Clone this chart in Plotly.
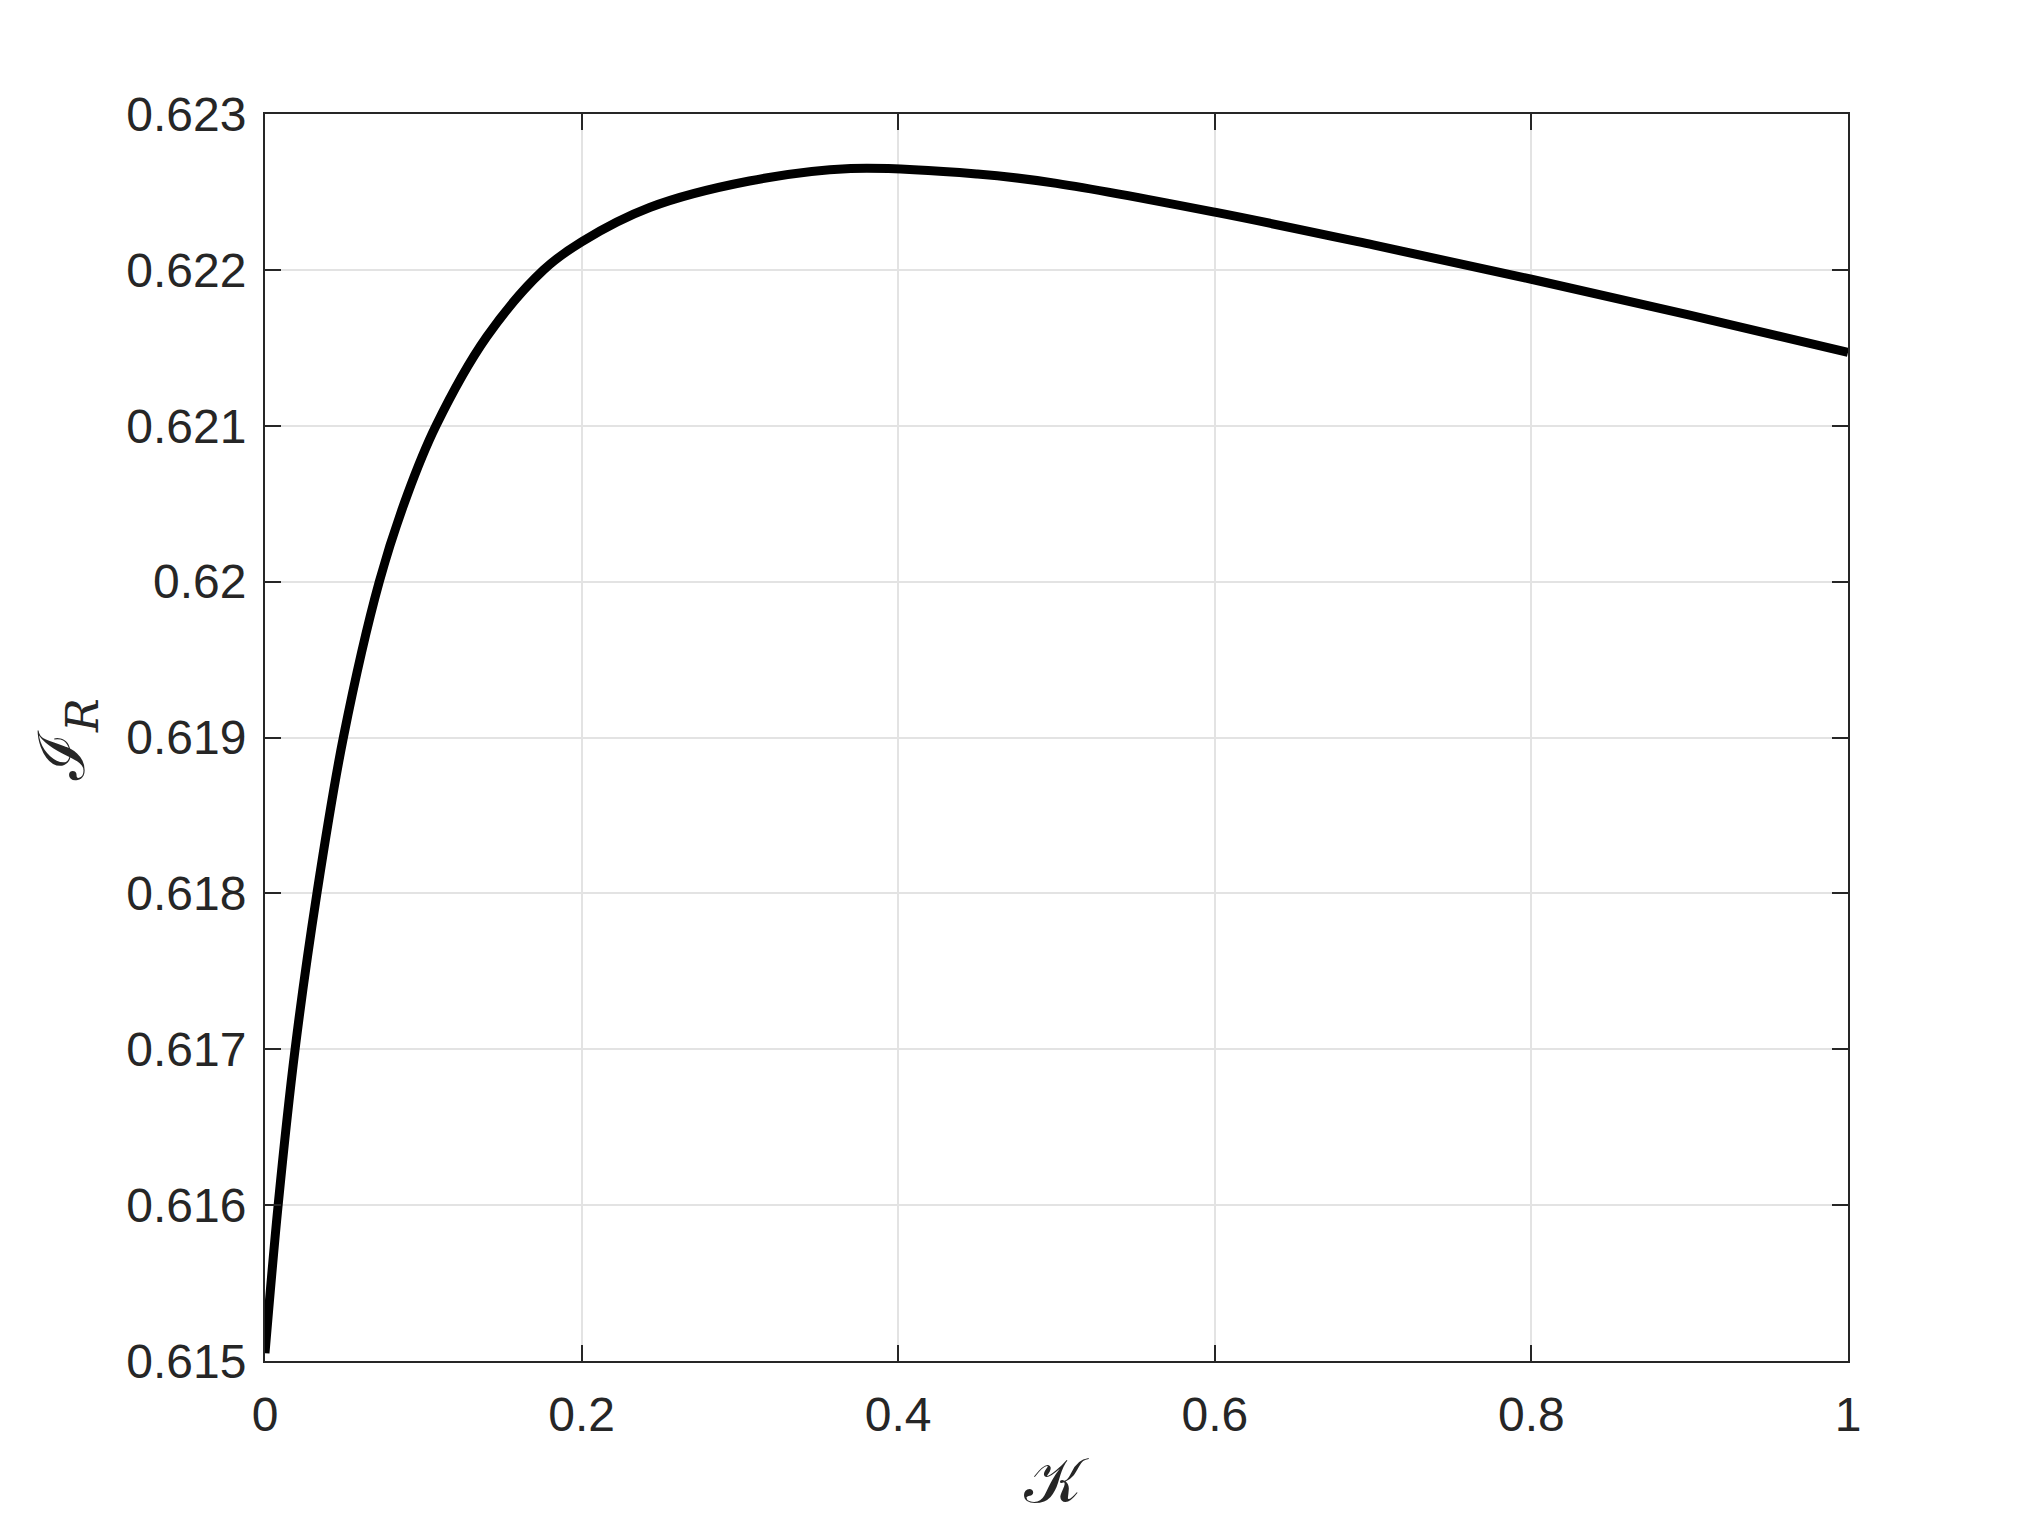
import plotly.graph_objects as go

# values
kappa = [0.0, 0.0083, 0.019, 0.0328, 0.0495, 0.0722, 0.09, 0.108, 0.14, 0.176,
         0.2, 0.243, 0.306, 0.37, 0.45, 0.5, 0.6, 0.7, 0.8, 0.9, 1.0]
i_r = [0.61505, 0.616, 0.617, 0.618, 0.619, 0.620, 0.62056, 0.621, 0.62157, 0.622,
       0.62218, 0.6224, 0.62257, 0.62265, 0.622615, 0.622555, 0.62237, 0.62216,
       0.62194, 0.62171, 0.62147]

x_ticks = [0, 0.2, 0.4, 0.6, 0.8, 1]
x_labels = ["0", "0.2", "0.4", "0.6", "0.8", "1"]
y_ticks = [0.615, 0.616, 0.617, 0.618, 0.619, 0.620, 0.621, 0.622, 0.623]
y_labels = ["0.615", "0.616", "0.617", "0.618", "0.619", "0.62", "0.621", "0.622", "0.623"]

axis_color = "#262626"
grid_color = "#e3e3e3"

fig = go.Figure()
fig.add_trace(
    go.Scatter(
        x=kappa,
        y=i_r,
        mode="lines",
        line=dict(color="black", width=9, shape="spline", smoothing=1.0),
        showlegend=False,
    )
)

axis_common = dict(
    showline=True,
    linecolor=axis_color,
    linewidth=2,
    mirror="ticks",
    ticks="inside",
    ticklen=16,
    tickwidth=2,
    tickcolor=axis_color,
    showgrid=True,
    gridcolor=grid_color,
    gridwidth=2,
    zeroline=False,
    tickfont=dict(family="Liberation Sans, Arial", size=48, color=axis_color),
)

fig.update_layout(
    width=2042,
    height=1531,
    margin=dict(l=257, r=202, t=106, b=178),
    paper_bgcolor="white",
    plot_bgcolor="white",
    xaxis=dict(range=[0, 1], tickvals=x_ticks, ticktext=x_labels, **axis_common),
    yaxis=dict(range=[0.615, 0.623], tickvals=y_ticks, ticktext=y_labels, **axis_common),
    annotations=[
        dict(
            text="𝒦",
            xref="paper",
            yref="paper",
            x=0.5,
            y=-0.096,
            xanchor="center",
            yanchor="middle",
            showarrow=False,
            font=dict(family="DejaVu Serif", size=62, color=axis_color),
        ),
        dict(
            text="ℐ<sub><i>R</i></sub>",
            xref="paper",
            yref="paper",
            x=-0.125,
            y=0.498,
            xanchor="center",
            yanchor="middle",
            textangle=-90,
            showarrow=False,
            font=dict(family="DejaVu Serif", size=64, color=axis_color),
        ),
    ],
)
fig.update_xaxes(ticklabelstandoff=10)
fig.update_yaxes(ticklabelstandoff=7)

fig.write_html("out.html")
